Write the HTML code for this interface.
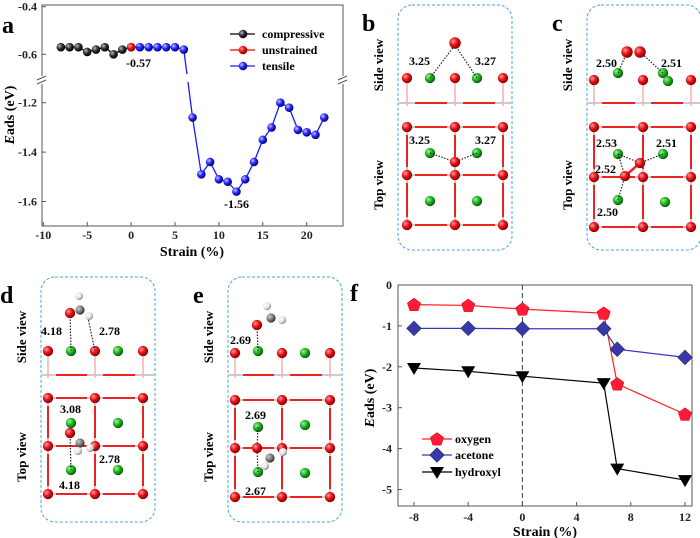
<!DOCTYPE html>
<html><head><meta charset="utf-8"><style>
body{margin:0;background:#fff;width:700px;height:538px;overflow:hidden}
svg{display:block;font-family:"Liberation Serif",serif;font-weight:bold}
</style></head><body>
<svg id="s" width="700" height="538" xmlns="http://www.w3.org/2000/svg">
<defs>
<radialGradient id="gr" cx="35%" cy="35%" r="65%"><stop offset="0" stop-color="#ff9a9a"/><stop offset="0.5" stop-color="#e8161b"/><stop offset="1" stop-color="#8b0000"/></radialGradient>
<radialGradient id="gg" cx="35%" cy="35%" r="65%"><stop offset="0" stop-color="#9ff09f"/><stop offset="0.5" stop-color="#22b822"/><stop offset="1" stop-color="#0a600a"/></radialGradient>
<radialGradient id="gb" cx="35%" cy="35%" r="65%"><stop offset="0" stop-color="#c8c8ff"/><stop offset="0.5" stop-color="#2a2aff"/><stop offset="1" stop-color="#00007a"/></radialGradient>
<radialGradient id="gk" cx="35%" cy="35%" r="65%"><stop offset="0" stop-color="#bbb"/><stop offset="0.5" stop-color="#333"/><stop offset="1" stop-color="#000"/></radialGradient>
<radialGradient id="gw" cx="35%" cy="35%" r="65%"><stop offset="0" stop-color="#fff"/><stop offset="0.7" stop-color="#ddd"/><stop offset="1" stop-color="#888"/></radialGradient>
<radialGradient id="gc" cx="35%" cy="35%" r="65%"><stop offset="0" stop-color="#ccc"/><stop offset="0.6" stop-color="#777"/><stop offset="1" stop-color="#333"/></radialGradient>
</defs>
</svg>
<script>
// ---------- Panel a data ----------
const compX=[-8,-7,-6,-5,-4,-3,-2,-1,0];
const compY=[-0.57,-0.57,-0.57,-0.59,-0.58,-0.57,-0.60,-0.58,-0.57];
const unstrX=[0];
const unstrY=[-0.57];
const tensX=[0,1,2,3,4,5,6,7,8,9,10,11,12,13,14,15,16,17,18,19,20,21,22];
const tensY=[-0.57,-0.57,-0.57,-0.57,-0.57,-0.57,-0.58,-1.26,-1.49,-1.44,-1.51,-1.52,-1.56,-1.51,-1.44,-1.35,-1.30,-1.20,-1.22,-1.31,-1.32,-1.33,-1.26];
const aXTicks=[-10,-5,0,5,10,15,20];
const aYTicksUp=[-0.4,-0.6];
const aYTicksLow=[-1.2,-1.4,-1.6];
// ---------- Panel f data ----------
const fX=[-8,-4,0,6,7,12];
const oxygen=[-0.48,-0.50,-0.59,-0.69,-2.42,-3.16];
const acetone=[-1.06,-1.06,-1.07,-1.07,-1.57,-1.77];
const hydroxyl=[-2.03,-2.11,-2.23,-2.40,-4.49,-4.77];
const fXTicks=[-8,-4,0,4,8,12];
const fYTicks=[0,-1,-2,-3,-4,-5];

const S=document.getElementById('s');
const NS='http://www.w3.org/2000/svg';
function el(t,a,p){const e=document.createElementNS(NS,t);for(const k in a)e.setAttribute(k,a[k]);(p||S).appendChild(e);return e;}
function txt(x,y,s,a,p){const e=el('text',Object.assign({x:x,y:y},a||{}),p);e.textContent=s;return e;}

// ===== Panel a =====
const ax=v=>131.1+v*8.78;
const ay=v=>v>-0.9?54.3+(-0.6-v)*238:102.7+(-1.2-v)*247;
const gA=el('g',{});

el('rect',{x:42,y:5,width:301,height:221,fill:'none',stroke:'#555','stroke-width':1},gA);
el('rect',{x:37,y:76,width:10,height:8,fill:'#fff'},gA);
el('rect',{x:338,y:76,width:10,height:8,fill:'#fff'},gA);
[[37,80],[338,80]].forEach(([x,y])=>{el('line',{x1:x,y1:y,x2:x+9,y2:y-4,stroke:'#555'},gA);el('line',{x1:x,y1:y+4,x2:x+9,y2:y,stroke:'#555'},gA);});
aXTicks.forEach(v=>{el('line',{x1:ax(v),y1:226,x2:ax(v),y2:222,stroke:'#555'},gA);
 const l=txt(ax(v),239,v,{'font-size':12,'text-anchor':'middle',fill:'#222'},gA);});
aYTicksUp.concat(aYTicksLow).forEach(v=>{el('line',{x1:42,y1:ay(v),x2:46,y2:ay(v),stroke:'#555'},gA);
 const l=txt(37,ay(v)+4,v.toFixed(1),{'font-size':12,'text-anchor':'end',fill:'#222'},gA);});
const axT=txt(192,256,'Strain (%)',{'font-size':14,'text-anchor':'middle'},gA);
const ayT=txt(0,0,'',{'font-size':14,'text-anchor':'middle',transform:'translate(14,115) rotate(-90)'},gA);
ayT.innerHTML='<tspan font-style="italic">E</tspan>ads (eV)';
const la=txt(2,33,'a',{'font-size':24},gA);
function series(xs,ys,fx,fy,col,grad,name,g){
 let d='';xs.forEach((x,i)=>{d+=(i?'L':'M')+fx(x)+' '+fy(ys[i]);});
 const p=el('path',{d:d,fill:'none',stroke:col,'stroke-width':1.3},g);
 xs.forEach((x,i)=>{const c=el('circle',{cx:fx(x),cy:fy(ys[i]),r:4.3,fill:'url(#'+grad+')'},g);});
}
series(compX,compY,ax,ay,'#000','gk','compressive',gA);
series(tensX.slice(1),tensY.slice(1),ax,ay,'#1a1aff','gb','tensile',gA);
el('line',{x1:ax(tensX[0]),y1:ay(tensY[0]),x2:ax(tensX[1]),y2:ay(tensY[1]),stroke:'#1a1aff','stroke-width':1.3},gA);
series(unstrX,unstrY,ax,ay,'#e00','gr','unstrained',gA);
el('rect',{x:183,y:74,width:8,height:8,fill:'#fff'},gA);
const a1=txt(126,67,'-0.57',{'font-size':12},gA);
const a2=txt(224,208,'-1.56',{'font-size':12},gA);
[['compressive','#000','gk',34],['unstrained','#e00','gr',50],['tensile','#1a1aff','gb',66]].forEach(([n,c,g,y])=>{
 const lg=el('g',{},gA);
 el('line',{x1:230,y1:y,x2:255,y2:y,stroke:c,'stroke-width':1.3},lg);el('circle',{cx:243,cy:y,r:4.3,fill:'url(#'+g+')'},lg);
 txt(262,y+4,n,{'font-size':12},lg);});

// ===== Panel f =====
const fx=v=>414+(v+8)*13.55;
const fy=v=>285-v*40.9;
const gF=el('g',{});
el('rect',{x:398,y:285,width:294,height:221,fill:'none',stroke:'#555'},gF);
el('line',{x1:fx(0),y1:285,x2:fx(0),y2:506,stroke:'#444','stroke-dasharray':'5,3'},gF);
fXTicks.forEach(v=>{el('line',{x1:fx(v),y1:506,x2:fx(v),y2:502,stroke:'#555'},gF);
 const l=txt(fx(v),521,v,{'font-size':12,'text-anchor':'middle',fill:'#222'},gF);});
fYTicks.forEach(v=>{el('line',{x1:398,y1:fy(v),x2:402,y2:fy(v),stroke:'#555'},gF);
 const l=txt(392,fy(v)+4,v,{'font-size':12,'text-anchor':'end',fill:'#222'},gF);});
const fxT=txt(545,536,'Strain (%)',{'font-size':14,'text-anchor':'middle'},gF);
const fyT=txt(0,0,'',{'font-size':14,'text-anchor':'middle',transform:'translate(374,398) rotate(-90)'},gF);
fyT.innerHTML='<tspan font-style="italic">E</tspan>ads (eV)';
const lf=txt(350,301,'f',{'font-size':24},gF);
function pent(x,y,r){let p='';for(let i=0;i<5;i++){const a=-Math.PI/2+i*2*Math.PI/5;p+=(x+r*Math.cos(a))+','+(y+r*Math.sin(a))+' ';}return p;}
function marker(type,x,y,g){
 if(type==='p')return el('polygon',{points:pent(x,y+0.5,7),fill:'#ff1a3a',stroke:'#c00','stroke-width':0.5},g);
 if(type==='d')return el('polygon',{points:`${x},${y-7.5} ${x+7.5},${y} ${x},${y+7.5} ${x-7.5},${y}`,fill:'#3838a8',stroke:'#223','stroke-width':0.5},g);
 return el('polygon',{points:`${x-7},${y-5} ${x+7},${y-5} ${x},${y+7}`,fill:'#000'},g);
}
function fseries(ys,col,type,name){
 let d='';fX.forEach((x,i)=>{d+=(i?'L':'M')+fx(x)+' '+fy(ys[i]);});
 const p=el('path',{d:d,fill:'none',stroke:col,'stroke-width':1.2},gF);
 fX.forEach((x,i)=>{const m=marker(type,fx(x),fy(ys[i]),gF);});
}
fseries(oxygen,'#ff2020','p','oxygen');
fseries(acetone,'#3838c0','d','acetone');
fseries(hydroxyl,'#000','t','hydroxyl');
[['oxygen','#ff2020','p',439],['acetone','#3838c0','d',455],['hydroxyl','#000','t',472]].forEach(([n,c,t,y])=>{
 const lg=el('g',{},gF);
 el('line',{x1:422,y1:y,x2:452,y2:y,stroke:c,'stroke-width':1.2},lg);marker(t,437,y,lg);
 txt(455,y+4,n,{'font-size':12},lg);});

// ===== Structure panels =====
function atom(x,y,r,g,p){return el('circle',{cx:x,cy:y,r:r*1.15,fill:'url(#'+g+')'},p);}
function dotted(x1,y1,x2,y2,p){return el('line',{x1:x1,y1:y1,x2:x2,y2:y2,stroke:'#222','stroke-width':1.2,'stroke-dasharray':'1.5,1.5'},p);}
function panel(name,letter,L,T,cols,rows,sideY,lblX){
 const g=el('g',{});
 el('rect',{x:L,y:T,width:114,height:245,rx:14,fill:'none',stroke:'#4aa0e6','stroke-width':1,'stroke-dasharray':'3,2'},g);
 txt(lblX,T+26,letter,{'font-size':24},g);
 txt(0,0,'Side view',{'font-size':13,'text-anchor':'middle',transform:`translate(${L-15},${T+60}) rotate(-90)`},g);
 txt(0,0,'Top view',{'font-size':13,'text-anchor':'middle',transform:`translate(${L-15},${T+180}) rotate(-90)`},g);
 const sy=T+98;
 el('line',{x1:L,y1:sy,x2:L+114,y2:sy,stroke:'#ccc','stroke-width':2},g);
 [[cols[0]+8,cols[1]-8],[cols[1]+8,cols[2]-8]].forEach(([a,b])=>el('line',{x1:a,y1:sy,x2:b,y2:sy,stroke:'#e22','stroke-width':2},g));
 cols.forEach(c=>el('line',{x1:c,y1:sideY,x2:c,y2:sy+3,stroke:'#f4b0b0','stroke-width':1.5},g));
 rows.forEach(r=>{for(let i=0;i<2;i++){el('line',{x1:cols[i],y1:r,x2:cols[i+1],y2:r,stroke:'#ccc','stroke-width':2},g);el('line',{x1:cols[i]+8,y1:r,x2:cols[i+1]-8,y2:r,stroke:'#e22','stroke-width':2},g);}});
 cols.forEach(c=>{for(let i=0;i<2;i++){el('line',{x1:c,y1:rows[i],x2:c,y2:rows[i+1],stroke:'#ccc','stroke-width':2},g);el('line',{x1:c,y1:rows[i]+8,x2:c,y2:rows[i+1]-8,stroke:'#e22','stroke-width':2},g);}});
 rows.forEach(r=>cols.forEach(c=>atom(c,r,4.5,'gr',g)));
 cols.forEach(c=>atom(c,sideY,4.5,'gr',g));
 return g;
}
const fs={'font-size':12};
// b
let g=panel('panel-b-structure','b',398,5,[407,455,503],[127,175,225],78,362);
atom(430,78,4.5,'gg',g);atom(477,78,4.5,'gg',g);
dotted(430,78,455,45,g);dotted(477,78,455,45,g);atom(455,43,5,'gr',g);
txt(409,65,'3.25',fs,g);txt(475,65,'3.27',fs,g);
[[430,201],[477,201],[430,153],[477,153]].forEach(([x,y])=>atom(x,y,4.5,'gg',g));
dotted(430,153,455,162,g);dotted(477,153,455,162,g);atom(455,162,4.5,'gr',g);
txt(409,144,'3.25',fs,g);txt(475,144,'3.27',fs,g);
// c
g=panel('panel-c-structure','c',587,5,[594,643,691],[127,177,227],80,552);
atom(618,73,4.5,'gg',g);atom(663,73,4.5,'gg',g);atom(668,81,4.5,'gg',g);
dotted(618,73,627,52,g);dotted(663,73,640,52,g);atom(627,52,5,'gr',g);atom(640,52,5,'gr',g);
txt(596,67,'2.50',fs,g);txt(661,67,'2.51',fs,g);
[[618,154],[663,154],[618,200],[665,202]].forEach(([x,y])=>atom(x,y,4.5,'gg',g));
el('line',{x1:625,y1:176,x2:640,y2:163,stroke:'#e22','stroke-width':2.5},g);
dotted(618,154,640,163,g);dotted(663,154,640,163,g);dotted(618,154,625,176,g);dotted(618,200,625,176,g);
atom(625,176,4.5,'gr',g);atom(640,163,4.5,'gr',g);
txt(596,147,'2.53',fs,g);txt(656,147,'2.51',fs,g);txt(595,173,'2.52',fs,g);txt(597,216,'2.50',fs,g);
// d
g=panel('panel-d-structure','d',41,277,[48,95,143],[398,446,494],351,0);
atom(71,351,4.5,'gg',g);atom(118,351,4.5,'gg',g);
dotted(71,351,70,313,g);dotted(95,351,88,318,g);
atom(79,296,3.5,'gw',g);atom(80,310,4,'gc',g);atom(89,316,3.5,'gw',g);atom(70,313,4.5,'gr',g);
txt(41,335,'4.18',fs,g);txt(99,335,'2.78',fs,g);
[[71,423],[118,423],[71,470],[118,470]].forEach(([x,y])=>atom(x,y,4.5,'gg',g));
dotted(70,433,71,470,g);atom(70,433,4.5,'gr',g);atom(80,443,4,'gc',g);atom(78,451,3.5,'gw',g);atom(90,448,3.5,'gw',g);
txt(60,413,'3.08',fs,g);txt(99,463,'2.78',fs,g);txt(59,489,'4.18',fs,g);
// e
g=panel('panel-e-structure','e',228,277,[235,282,330],[400,448,497],353,193);
atom(258,351,4.5,'gg',g);atom(305,353,4.5,'gg',g);
dotted(258,351,257,326,g);atom(257,325,4.5,'gr',g);atom(271,318,4,'gc',g);atom(267,306,3.5,'gw',g);atom(282,320,3.5,'gw',g);
txt(230,344,'2.69',fs,g);
[[258,427],[305,425],[258,472],[305,473]].forEach(([x,y])=>atom(x,y,4.5,'gg',g));
dotted(258,427,257,448,g);dotted(258,472,257,448,g);atom(257,448,4.5,'gr',g);atom(270,458,4,'gc',g);atom(265,466,3.5,'gw',g);atom(283,452,3.5,'gw',g);
txt(245,419,'2.69',fs,g);txt(245,495,'2.67',fs,g);
</script>
</body></html>
